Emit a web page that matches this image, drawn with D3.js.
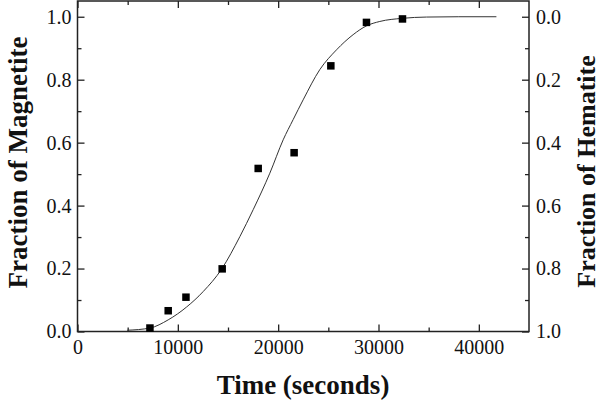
<!DOCTYPE html>
<html>
<head>
<meta charset="utf-8">
<script src="https://cdn.jsdelivr.net/npm/d3@7"></script>
<style>
html,body{margin:0;padding:0;background:#fff;}
svg{display:block;}
text{font-family:"Liberation Serif","Times New Roman",serif;fill:#111;}
</style>
</head>
<body>
<svg id="chart" width="600" height="401"></svg>
<script>
// Measured data (time in seconds, fraction of magnetite)
const pointTimes = [7220, 9040, 10810, 14420, 18010, 21590, 25250, 28800, 32390];
const pointValues = [0.011, 0.066, 0.109, 0.199, 0.518, 0.568, 0.844, 0.982, 0.993];

// Fitted curve
const curveTimes = [4960, 7220, 9040, 10880, 12530, 14360, 16190, 17510, 19170, 20500, 21490, 22490, 24150, 25820, 27470, 28800, 30130, 32390, 34780, 38000, 41750];
const curveValues = [0.004, 0.011, 0.037, 0.078, 0.127, 0.198, 0.302, 0.387, 0.503, 0.609, 0.673, 0.736, 0.832, 0.895, 0.943, 0.971, 0.985, 0.995, 0.999, 1.0, 1.0];

const xTicks = [0, 10000, 20000, 30000, 40000];
const xMinorTicks = [5000, 15000, 25000, 35000];
const yTicks = [0, 0.2, 0.4, 0.6, 0.8, 1.0];
const yMinorTicks = [0.1, 0.3, 0.5, 0.7, 0.9];

const xTitle = "Time (seconds)";
const yTitleLeft = "Fraction of Magnetite";
const yTitleRight = "Fraction of Hematite";

const L = 77.5, R = 529, T = 1, B = 331.5;
const svg = d3.select("#chart");

const x = d3.scaleLinear().domain([0, 45000]).range([L, R]);
const y = d3.scaleLinear().domain([0, 1.05]).range([B, T]);
const yR = d3.scaleLinear().domain([1, -0.05]).range([B, T]);

const axisColor = "#222";
const majorLen = 7, minorLen = 4;

function styleAxis(g) {
  g.selectAll(".domain").remove();
  g.selectAll("line").attr("stroke", axisColor).attr("stroke-width", 1.3);
  g.selectAll("text").style("font-size", "20px").attr("fill", "#111");
}

// bottom axis (ticks inward)
svg.append("g").attr("transform", `translate(0,${B})`)
  .call(d3.axisBottom(x).tickValues(xTicks).tickFormat(d3.format("d")).tickSizeInner(-majorLen).tickSizeOuter(0).tickPadding(8))
  .call(styleAxis);
svg.append("g").attr("transform", `translate(0,${B})`)
  .call(d3.axisBottom(x).tickValues(xMinorTicks).tickFormat("").tickSizeInner(-minorLen).tickSizeOuter(0))
  .call(styleAxis);
// top axis ticks
svg.append("g").attr("transform", `translate(0,${T})`)
  .call(d3.axisTop(x).tickValues(xTicks).tickFormat("").tickSizeInner(-majorLen).tickSizeOuter(0))
  .call(styleAxis);
svg.append("g").attr("transform", `translate(0,${T})`)
  .call(d3.axisTop(x).tickValues(xMinorTicks).tickFormat("").tickSizeInner(-minorLen).tickSizeOuter(0))
  .call(styleAxis);

// left axis
svg.append("g").attr("transform", `translate(${L},0)`)
  .call(d3.axisLeft(y).tickValues(yTicks).tickFormat(d3.format(".1f")).tickSizeInner(-majorLen).tickSizeOuter(0).tickPadding(6))
  .call(styleAxis);
svg.append("g").attr("transform", `translate(${L},0)`)
  .call(d3.axisLeft(y).tickValues(yMinorTicks).tickFormat("").tickSizeInner(-minorLen).tickSizeOuter(0))
  .call(styleAxis);

// right axis (hematite = 1 - magnetite)
svg.append("g").attr("transform", `translate(${R},0)`)
  .call(d3.axisRight(yR).tickValues(yTicks).tickFormat(d3.format(".1f")).tickSizeInner(-majorLen).tickSizeOuter(0).tickPadding(7))
  .call(styleAxis);
svg.append("g").attr("transform", `translate(${R},0)`)
  .call(d3.axisRight(yR).tickValues(yMinorTicks).tickFormat("").tickSizeInner(-minorLen).tickSizeOuter(0))
  .call(styleAxis);

// frame
svg.append("rect").attr("x", L).attr("y", T).attr("width", R - L).attr("height", B - T)
  .attr("fill", "none").attr("stroke", axisColor).attr("stroke-width", 1.5);

// curve
const curveData = curveTimes.map((t, i) => [t, curveValues[i]]);
svg.append("path").datum(curveData)
  .attr("fill", "none").attr("stroke", "#333").attr("stroke-width", 1)
  .attr("d", d3.line().x(d => x(d[0])).y(d => y(d[1])).curve(d3.curveMonotoneX));

// points
const s = 7.5;
svg.append("g").selectAll("rect").data(pointTimes.map((t, i) => [t, pointValues[i]]))
  .join("rect")
  .attr("x", d => x(d[0]) - s / 2).attr("y", d => y(d[1]) - s / 2)
  .attr("width", s).attr("height", s).attr("fill", "#000");

// titles
svg.append("text").attr("x", 303).attr("y", 394)
  .attr("text-anchor", "middle").style("font-size", "27px").style("font-weight", "bold").text(xTitle);
svg.append("text").attr("transform", `translate(27,162.5) rotate(-90)`)
  .attr("text-anchor", "middle").style("font-size", "27px").style("font-weight", "bold").text(yTitleLeft);
svg.append("text").attr("transform", `translate(595,171.5) rotate(-90)`)
  .attr("text-anchor", "middle").style("font-size", "26px").style("font-weight", "bold").text(yTitleRight);
</script>
</body>
</html>
